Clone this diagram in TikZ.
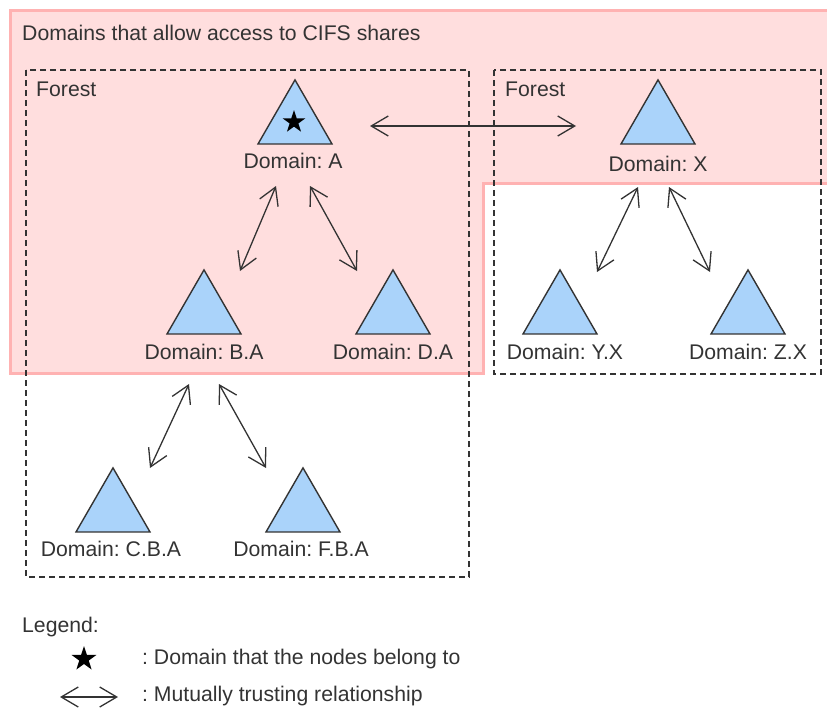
\documentclass[tikz,border=0pt]{standalone}
\usepackage{fontspec}
\setmainfont{Liberation Sans}
\usetikzlibrary{arrows.meta,shapes.geometric}
\definecolor{txt}{RGB}{51,51,51}
\definecolor{tfill}{RGB}{170,211,250}
\definecolor{pfill}{RGB}{255,222,222}
\definecolor{pline}{RGB}{255,178,178}
\frenchspacing
\tikzset{
  tri/.style={regular polygon, regular polygon sides=3, minimum size=85.4pt, inner sep=0pt,
    draw=txt, line width=1.4pt, fill=tfill},
  lbl/.style={anchor=base, text=txt, inner sep=0pt, font=\fontsize{21.2}{25}\selectfont},
  lblw/.style={anchor=base west, text=txt, inner sep=0pt, font=\fontsize{21.2}{25}\selectfont},
  forestbox/.style={draw=txt, line width=1.5pt, dash pattern=on 6pt off 4pt},
  trust/.style={draw=txt, line width=1.3pt, {Straight Barb[length=17pt,width=20pt]}-{Straight Barb[length=17pt,width=20pt]}},
  starmark/.style={star, star points=5, star point ratio=2.6, fill=black, inner sep=0pt}
}
\begin{document}
\begin{tikzpicture}[x=1pt,y=-1pt]
\useasboundingbox (0,0) rectangle (827,715);
% pink region
\draw[fill=pfill, draw=pline, line width=3pt]
  (10,10) -- (830,10) -- (830,183) -- (483,183) -- (483,373) -- (10,373) -- cycle;
\node[lblw] (title) at (22,40) {Domains that allow access to CIFS shares};
% forest boxes
\draw[forestbox] (26,70) rectangle (469,577);
\draw[forestbox] (494,70) rectangle (821,374);
\node[lblw] (f1) at (36,96) {Forest};
\node[lblw] (f2) at (505,96) {Forest};
% triangles
\node[tri] (tA) at (295,122.6) {};
\node[starmark, minimum size=24pt] (sA) at (294,122) {};
\node[tri] (tX) at (658,122.6) {};
\node[tri] (tBA) at (204,312.6) {};
\node[tri] (tDA) at (393,312.6) {};
\node[tri] (tYX) at (560,312.6) {};
\node[tri] (tZX) at (748,312.6) {};
\node[tri] (tCBA) at (113,510.6) {};
\node[tri] (tFBA) at (303,510.6) {};
% labels
\node[lbl] (lA) at (293,168) {Domain: A};
\node[lbl] (lX) at (658,171) {Domain: X};
\node[lbl] (lBA) at (204,359) {Domain: B.A};
\node[lbl] (lDA) at (393,359) {Domain: D.A};
\node[lbl] (lYX) at (565,359) {Domain: Y.X};
\node[lbl] (lZX) at (748,359) {Domain: Z.X};
\node[lbl] (lCBA) at (111,556) {Domain: C.B.A};
\node[lbl] (lFBA) at (301,556) {Domain: F.B.A};
% arrow end points
\coordinate (aAX1) at (370,126); \coordinate (aAX2) at (576,126);
\coordinate (aAB1) at (276,186); \coordinate (aAB2) at (240,271);
\coordinate (aAD1) at (310,186); \coordinate (aAD2) at (357,271);
\coordinate (aXY1) at (638,187); \coordinate (aXY2) at (597,272);
\coordinate (aXZ1) at (669,187); \coordinate (aXZ2) at (710,272);
\coordinate (aBC1) at (189,384); \coordinate (aBC2) at (150,468);
\coordinate (aBF1) at (219,384); \coordinate (aBF2) at (266,468);
\draw[trust] (aAX1) -- (aAX2);
\draw[trust] (aAB1) -- (aAB2);
\draw[trust] (aAD1) -- (aAD2);
\draw[trust] (aXY1) -- (aXY2);
\draw[trust] (aXZ1) -- (aXZ2);
\draw[trust] (aBC1) -- (aBC2);
\draw[trust] (aBF1) -- (aBF2);
% legend
\node[lblw] (leg) at (22,632) {Legend:};
\node[starmark, minimum size=26pt] (legstar) at (84,659) {};
\node[lblw] (legt1) at (142,664) {: Domain that the nodes belong to};
\coordinate (legA1) at (60,697); \coordinate (legA2) at (118,697);
\draw[trust] (legA1) -- (legA2);
\node[lblw] (legt2) at (142,701) {: Mutually trusting relationship};
\end{tikzpicture}
\end{document}
